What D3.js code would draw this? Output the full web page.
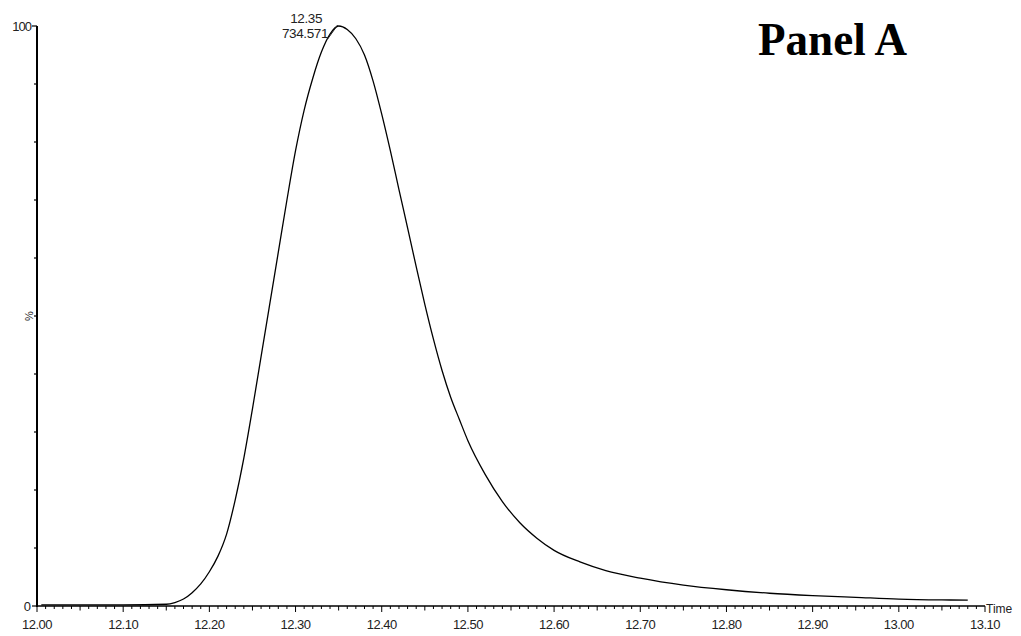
<!DOCTYPE html>
<html>
<head>
<meta charset="utf-8">
<script src="https://cdn.jsdelivr.net/npm/d3@7"></script>
<style>
	html, body { margin: 0; padding: 0; background: #fff; }
	svg { display: block; }
	text { font-family: "Liberation Sans", Arial, sans-serif; fill: #222; }
</style>
</head>
<body>
<svg id="chart" width="1021" height="636"></svg>
<script>
// chromatogram trace (time in min, relative intensity in %)
var times = [12.005, 12.05, 12.10, 12.15, 12.16, 12.17, 12.18, 12.19, 12.20, 12.21, 12.22, 12.23,
	12.24, 12.25, 12.26, 12.27, 12.28, 12.29, 12.30, 12.31, 12.32, 12.33, 12.34, 12.35, 12.36,
	12.37, 12.38, 12.39, 12.40, 12.41, 12.42, 12.43, 12.44, 12.45, 12.46, 12.47, 12.48, 12.49,
	12.50, 12.52, 12.54, 12.56, 12.58, 12.60, 12.63, 12.66, 12.70, 12.75, 12.80, 12.85, 12.90,
	12.95, 13.00, 13.05, 13.08];
var intensity = [0.2, 0.2, 0.2, 0.3, 0.6, 1.2, 2.3, 3.8, 5.9, 8.6, 12.4, 18.3,
	25.5, 34, 43, 52, 61, 70, 78.5, 85.5, 91, 95.5, 98.6, 100, 99.4,
	97.8, 95, 90.5, 84.8, 78.5, 71.8, 65.2, 58.5, 52, 46, 40.6, 36, 32.2,
	28.5, 22.7, 18, 14.4, 11.7, 9.6, 7.6, 6.1, 4.8, 3.6, 2.8, 2.2, 1.8,
	1.5, 1.2, 1.05, 1.0];

var xTickLabels = ["12.00", "12.10", "12.20", "12.30", "12.40", "12.50", "12.60", "12.70",
	"12.80", "12.90", "13.00", "13.10"];
var peakLabel = ["12.35", "734.571"];
var peakTime = 12.35, peakValue = 100;

var svg = d3.select("#chart");

var x = d3.scaleLinear().domain([12.0, 13.1]).range([37, 985]);
var y = d3.scaleLinear().domain([0, 100]).range([606, 26]);

var data = times.map((t, i) => ({t: t, v: intensity[i]}));

// x axis: minor ticks every 0.01, medium at 0.05, major at 0.1
var minor = d3.range(0, 111).map(i => 12 + i / 100);
svg.append("line")
	.attr("x1", x(12.0)).attr("x2", x(13.1))
	.attr("y1", y(0)).attr("y2", y(0))
	.attr("stroke", "#000").attr("stroke-width", 1.6);
svg.selectAll("line.xtick")
	.data(minor)
	.enter()
	.append("line")
	.attr("class", "xtick")
	.attr("x1", d => x(d)).attr("x2", d => x(d))
	.attr("y1", y(0))
	.attr("y2", (d, i) => y(0) + (i % 10 === 0 ? 6 : (i % 5 === 0 ? 4.5 : 3)))
	.attr("stroke", "#000").attr("stroke-width", 1);
svg.selectAll("text.xlab")
	.data(xTickLabels)
	.enter()
	.append("text")
	.attr("class", "xlab")
	.attr("x", d => x(+d))
	.attr("y", 629)
	.attr("text-anchor", "middle")
	.style("font-size", "13px")
	.style("letter-spacing", "-0.5px")
	.text(d => d);
svg.append("text")
	.attr("x", 986).attr("y", 613)
	.style("font-size", "12px")
	.text("Time");

// y axis
svg.append("line")
	.attr("x1", x(12.0)).attr("x2", x(12.0))
	.attr("y1", y(0) + 1).attr("y2", y(100))
	.attr("stroke", "#000").attr("stroke-width", 2);
svg.selectAll("line.ytick")
	.data(d3.range(0, 101, 10))
	.enter()
	.append("line")
	.attr("class", "ytick")
	.attr("x1", x(12.0))
	.attr("x2", d => x(12.0) - (d === 100 || d === 0 ? 5 : 3))
	.attr("y1", d => y(d)).attr("y2", d => y(d))
	.attr("stroke", "#000").attr("stroke-width", 1.2);
svg.append("text")
	.attr("x", 31).attr("y", y(100) + 5)
	.attr("text-anchor", "end")
	.style("font-size", "13px")
	.style("letter-spacing", "-1px")
	.text("100");
svg.append("text")
	.attr("x", 31).attr("y", y(0) + 5)
	.attr("text-anchor", "end")
	.style("font-size", "13px")
	.text("0");
svg.append("text")
	.attr("transform", "translate(33," + y(50) + ") rotate(-90)")
	.attr("text-anchor", "middle")
	.style("font-size", "11px")
	.text("%");

// trace
var line = d3.line()
	.x(d => x(d.t))
	.y(d => y(d.v))
	.curve(d3.curveMonotoneX);
svg.append("path")
	.datum(data)
	.attr("d", line)
	.attr("fill", "none")
	.attr("stroke", "#000")
	.attr("stroke-width", 1.3);

// peak annotation
svg.append("line")
	.attr("x1", x(peakTime) - 11).attr("y1", y(peakValue) + 13)
	.attr("x2", x(peakTime) - 1).attr("y2", y(peakValue) - 1)
	.attr("stroke", "#222").attr("stroke-width", 1);
svg.selectAll("text.peak")
	.data(peakLabel)
	.enter()
	.append("text")
	.attr("class", "peak")
	.attr("x", (d, i) => i === 0 ? 322 : 328)
	.attr("y", (d, i) => 23 + i * 15)
	.attr("text-anchor", "end")
	.style("font-size", "13.5px")
	.style("letter-spacing", "-0.4px")
	.text(d => d);

// panel title
svg.append("text")
	.attr("x", 758).attr("y", 55)
	.attr("textLength", 149)
	.attr("lengthAdjust", "spacingAndGlyphs")
	.style("font-family", "'Liberation Serif', 'Times New Roman', serif")
	.style("font-weight", "bold")
	.style("font-size", "47px")
	.style("fill", "#000")
	.text("Panel A");
</script>
</body>
</html>
